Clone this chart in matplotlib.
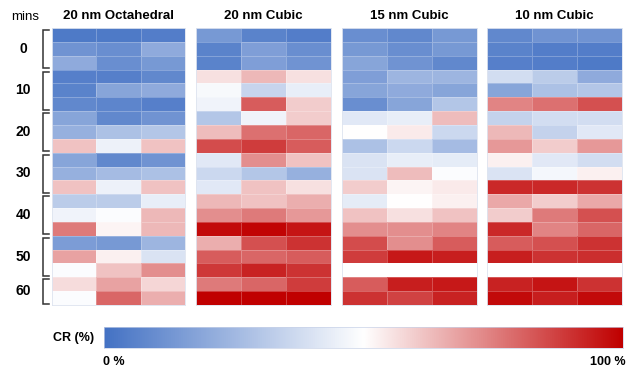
import numpy as np
import matplotlib.pyplot as plt
from matplotlib.colors import LinearSegmentedColormap

plt.rcParams['font.family'] = ['Liberation Sans', 'DejaVu Sans']

W, H = 628, 369

titles = ['20 nm Octahedral', '20 nm Cubic', '15 nm Cubic', '10 nm Cubic']
time_labels = ['0', '10', '20', '30', '40', '50', '60']
# rows belonging to each time point
groups = [(0, 3), (3, 6), (6, 9), (9, 12), (12, 15), (15, 18), (18, 20)]

# CR (%) per replicate, 20 rows x 3 columns
octa20 = [
    [3, 3, 4], [12, 10, 20], [20, 10, 14],
    [5, 5, 8], [6, 18, 20], [8, 7, 5],
    [18, 8, 12], [22, 28, 30], [62, 45, 62],
    [18, 8, 12], [22, 26, 28], [62, 45, 62],
    [32, 32, 44], [46, 49, 64], [76, 52, 64],
    [15, 14, 24], [68, 53, 40], [49, 62, 72],
    [57, 68, 58], [49, 80, 66],
]
cubic20 = [
    [14, 6, 4], [6, 16, 10], [6, 16, 12],
    [56, 64, 56], [48, 35, 44], [46, 82, 60],
    [30, 46, 60], [63, 78, 80], [85, 88, 82],
    [42, 72, 62], [36, 30, 22], [42, 62, 56],
    [64, 62, 66], [72, 76, 70], [98, 99, 96],
    [66, 84, 90], [82, 80, 82], [89, 93, 90],
    [76, 80, 88], [100, 100, 100],
]
cubic15 = [
    [10, 8, 14], [14, 10, 14], [18, 12, 8],
    [16, 24, 24], [18, 20, 18], [10, 18, 30],
    [42, 44, 63], [50, 54, 36], [28, 36, 26],
    [40, 44, 43], [40, 63, 49], [60, 52, 54],
    [43, 50, 53], [62, 56, 62], [72, 72, 74],
    [85, 72, 82], [88, 95, 94], [np.nan, np.nan, np.nan],
    [82, 94, 95], [90, 87, 93],
]
cubic10 = [
    [8, 12, 12], [6, 4, 4], [5, 4, 3],
    [38, 32, 20], [18, 28, 30], [74, 78, 84],
    [34, 38, 38], [64, 34, 42], [70, 60, 70],
    [53, 42, 38], [40, 47, 53], [92, 92, 90],
    [67, 60, 67], [60, 76, 84], [92, 74, 80],
    [82, 84, 90], [94, 90, 91], [np.nan, np.nan, np.nan],
    [93, 96, 90], [98, 94, 98],
]
panels = [octa20, cubic20, cubic15, cubic10]

cmap = LinearSegmentedColormap.from_list(
    'cr', ['#4472c4', '#ffffff', '#c00000'])
cmap.set_bad('white')

fig = plt.figure(figsize=(W / 100, H / 100), dpi=100)

def box(x0, y0, x1, y1):
    return [x0 / W, 1 - y1 / H, (x1 - x0) / W, (y1 - y0) / H]

top, bot = 28, 305
xs = [(52, 185), (196, 331), (342, 477), (487, 622)]
nrows = 20

for (x0, x1), title, vals in zip(xs, titles, panels):
    ax = fig.add_axes(box(x0, top, x1, bot))
    data = np.ma.masked_invalid(np.array(vals, dtype=float))
    ax.pcolormesh(data, cmap=cmap, vmin=0, vmax=100,
                  edgecolors=(1, 1, 1, 0.25), linewidth=0.4)
    ax.set_xlim(0, 3)
    ax.set_ylim(nrows, 0)
    ax.set_xticks([])
    ax.set_yticks([])
    for s in ax.spines.values():
        s.set_color('#dde3ef')
        s.set_linewidth(0.6)
    ax.text(1.5, -0.4, title, ha='center', va='bottom',
            fontsize=9.5, fontweight='bold')

# time brackets on the left
axl = fig.add_axes(box(0, top, 52, bot))
axl.set_xlim(0, 52)
axl.set_ylim(nrows, 0)
axl.axis('off')
for (r0, r1), lab in zip(groups, time_labels):
    y0, y1 = r0 + 0.15, r1 - 0.1
    axl.plot([49, 43, 43, 49], [y0, y0, y1, y1], color='#333333',
             lw=1.1, solid_joinstyle='miter', clip_on=False)
    axl.text(23, (r0 + r1) / 2, lab, ha='center', va='center',
             fontsize=10, fontweight='bold')
axl.text(25, -0.8, 'mins', ha='center', va='center', fontsize=9.5)

# colour scale
axc = fig.add_axes(box(104, 327, 623, 348))
axc.imshow(np.linspace(0, 100, 512)[None, :], cmap=cmap, aspect='auto',
           extent=[0, 100, 0, 1])
axc.set_xticks([])
axc.set_yticks([])
for s in axc.spines.values():
    s.set_color('#c8d2e8')
    s.set_linewidth(0.5)
fig.text(94 / W, 1 - 338 / H, 'CR (%)', ha='right', va='center',
         fontsize=9, fontweight='bold')
fig.text(103 / W, 1 - 362 / H, '0 %', ha='left', va='center',
         fontsize=9, fontweight='bold')
fig.text(626 / W, 1 - 362 / H, '100 %', ha='right', va='center',
         fontsize=9, fontweight='bold')

fig.savefig('out.png', dpi=100)
